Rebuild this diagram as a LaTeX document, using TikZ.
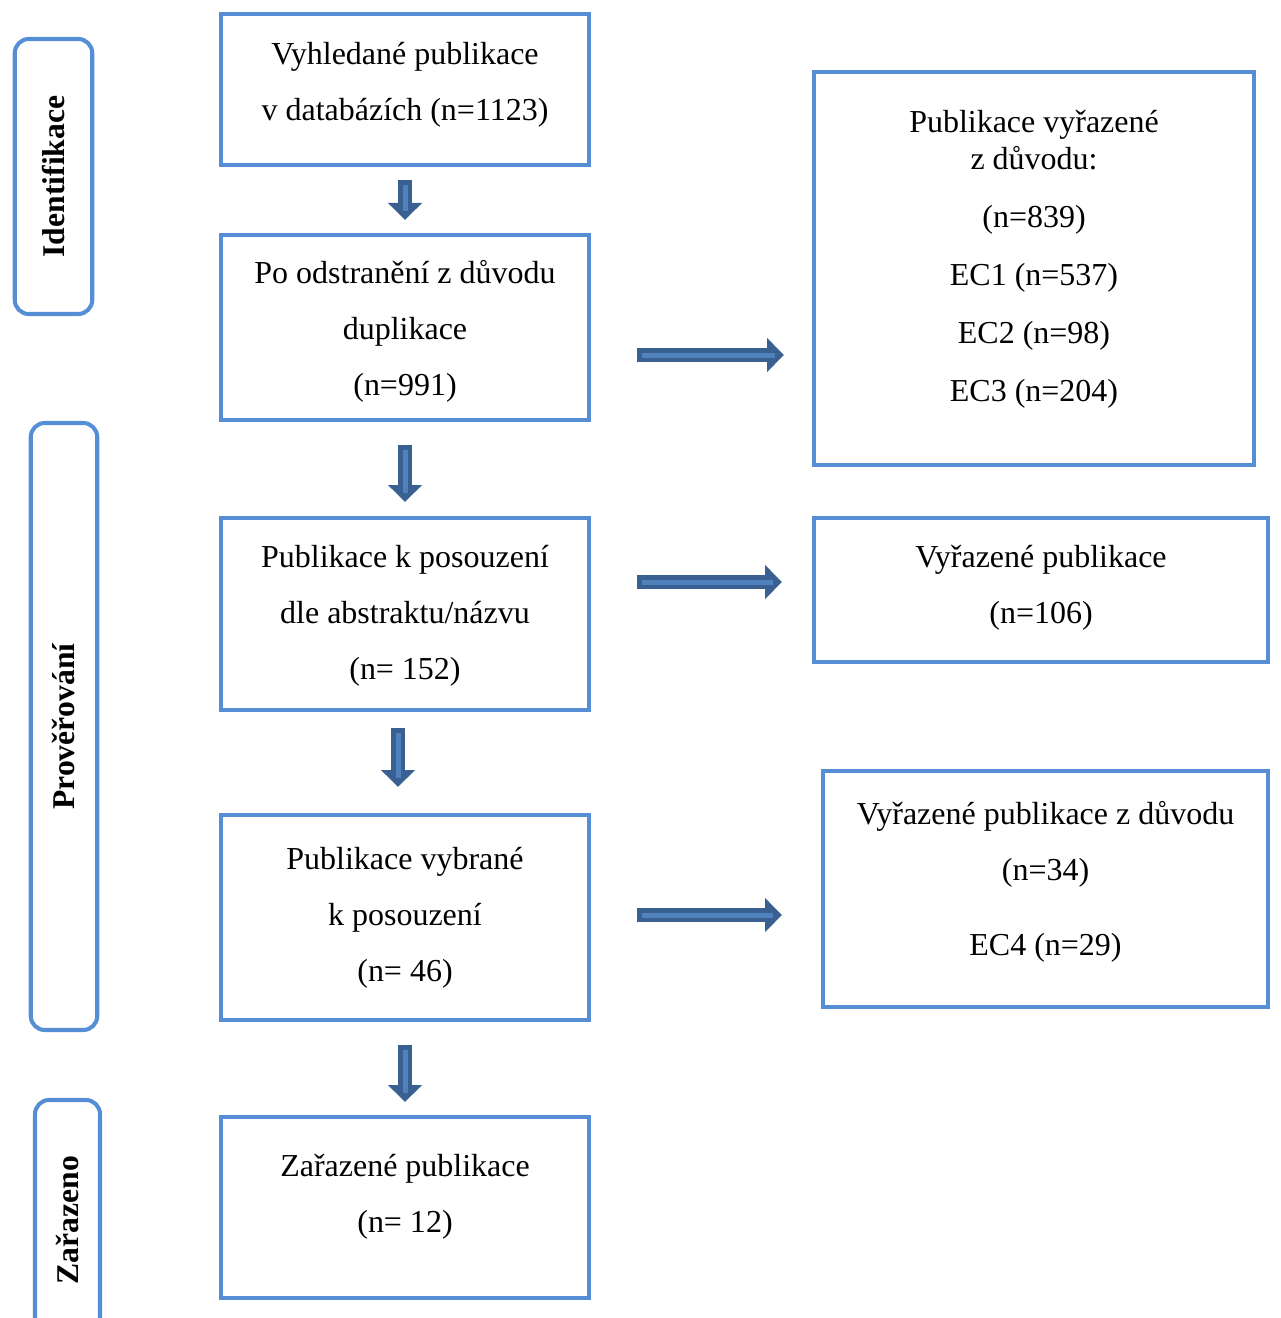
\documentclass[tikz,border=0pt]{standalone}
\usepackage{fontspec}
\setmainfont{Liberation Serif}
\usetikzlibrary{arrows.meta}
\definecolor{boxblue}{HTML}{568ED6}
\definecolor{arrowdark}{HTML}{3A6092}
\definecolor{arrowlight}{HTML}{4F81BD}

\begin{document}
\begin{tikzpicture}[
    font=\fontsize{18.2}{31.9}\selectfont,
    pubbox/.style={draw=boxblue, line width=2.3pt, outer sep=0pt, align=center, inner sep=0pt},
    phase/.style={draw=boxblue, line width=2.3pt, rounded corners=8pt, outer sep=0pt, rotate=90, font=\fontsize{18}{22}\selectfont\bfseries},
    flowarrow/.style 2 args={draw=arrowdark, line width=2.8mm, -{Triangle[length=3.4mm,width=6.6mm]},
      shorten <=#1, shorten >=#2,
      postaction={draw=arrowlight, line width=1mm, -, shorten <=#1+1mm, shorten >=#2+1.8mm}}]
  \useasboundingbox (0,0) rectangle (25.6,-26.36);
  % phases
  \node[phase, minimum width=5.5cm, minimum height=1.55cm] (ident) at (1.07,-3.53) {Identifikace};
  \node[phase, minimum width=12.14cm, minimum height=1.33cm] (screen) at (1.28,-14.53) {Prověřování};
  \node[phase, minimum width=4.8cm, minimum height=1.3cm] (incl) at (1.35,-24.4) {Zařazeno};
  % main column
  \node[pubbox, minimum width=7.36cm, minimum height=3.02cm, text depth=0.33cm] (b1) at (8.1,-1.79)
    {Vyhledané publikace\\v databázích (n=1123)};
  \node[pubbox, minimum width=7.36cm, minimum height=3.7cm, text depth=0pt] (b2) at (8.1,-6.55)
    {Po odstranění z důvodu\\duplikace\\(n=991)};
  \node[pubbox, minimum width=7.36cm, minimum height=3.84cm, text depth=0.05cm] (b3) at (8.1,-12.28)
    {Publikace k posouzení\\dle abstraktu/názvu\\(n= 152)};
  \node[pubbox, minimum width=7.36cm, minimum height=4.1cm] (b4) at (8.1,-18.35)
    {Publikace vybrané\\k posouzení\\(n= 46)};
  \node[pubbox, minimum width=7.36cm, minimum height=3.62cm, text depth=0.55cm] (b5) at (8.1,-24.15)
    {Zařazené publikace\\(n= 12)};
  % excluded
  \node[pubbox, minimum width=8.8cm, minimum height=7.86cm, text depth=0.5cm] (r1) at (20.68,-5.37)
    {Publikace vyřazené\\[-10.9pt]z důvodu:\\[1.1pt](n=839)\\[1pt]EC1 (n=537)\\[1pt]EC2 (n=98)\\[1pt]EC3 (n=204)};
  \node[pubbox, minimum width=9.08cm, minimum height=2.88cm, text depth=0.23cm] (r2) at (20.82,-11.8)
    {Vyřazené publikace\\(n=106)};
  \node[pubbox, minimum width=8.9cm, minimum height=4.72cm, text depth=0.42cm] (r3) at (20.91,-17.78)
    {Vyřazené publikace z důvodu\\(n=34)\\[11pt]EC4 (n=29)};
  % arrows
  \draw[flowarrow={0.3cm}{0.3cm}] (b1) -- (b2);
  \draw[flowarrow={0.5cm}{0.32cm}] (b2) -- (b3);
  \draw[flowarrow={0.36cm}{0.56cm}] ([xshift=-0.14cm]b3.south) -- ([xshift=-0.14cm]b4.north);
  \draw[flowarrow={0.5cm}{0.3cm}] (b4) -- (b5);
  \draw[flowarrow={0.96cm}{0.6cm}] ([yshift=-0.55cm]b2.east) -- ([yshift=-0.55cm]b2.east -| r1.west);
  \draw[flowarrow={0.96cm}{0.64cm}] ([yshift=0.64cm]b3.east) -- ([yshift=0.64cm]b3.east -| r2.west);
  \draw[flowarrow={0.96cm}{0.82cm}] ([yshift=0.05cm]b4.east) -- ([yshift=0.05cm]b4.east -| r3.west);
\end{tikzpicture}
\end{document}
